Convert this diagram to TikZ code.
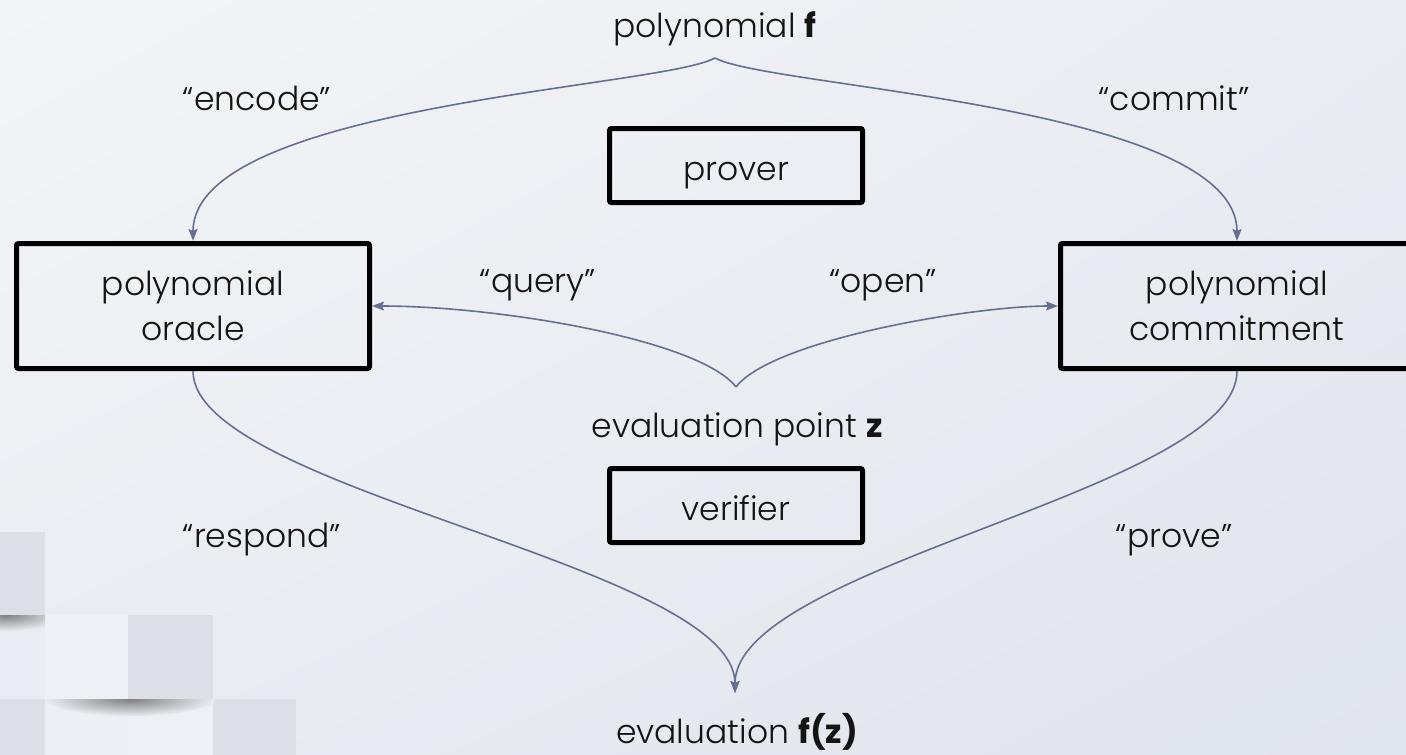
\documentclass[tikz,border=0pt]{standalone}
\usepackage{fontspec}
\setmainfont{Poppins}[UprightFont=* Light, BoldFont=* Bold]
\usetikzlibrary{arrows.meta,shadings}

\definecolor{bgA}{HTML}{F4F5F8}
\definecolor{bgB}{HTML}{E9ECF1}
\definecolor{bgC}{HTML}{E1E5EC}
\definecolor{linkc}{HTML}{66708E}
\definecolor{tileD}{HTML}{DCDFE6}
\definecolor{tileL}{HTML}{EEF0F5}
\definecolor{tileM}{HTML}{E9ECF2}

\tikzset{
  txt/.style={font=\fontsize{33}{45}\selectfont, text=black!92},
  lbl/.style={txt, inner sep=0pt, anchor=base},
  box/.style={txt, draw=black, line width=5pt, rounded corners=2pt,
    align=center, inner sep=0pt},
  onebox/.style={box, minimum width=253pt, minimum height=74pt,
    text height=29pt, text depth=0pt},
  twobox/.style={box, minimum width=353pt, minimum height=125pt},
  link/.style={draw=linkc, line width=1.6pt,
    -{Stealth[length=12pt, width=9pt, inset=2pt]}},
  tileshadow/.style={inner color=black!50, outer color=tileM},
}

\begin{document}
\begin{tikzpicture}[x=1pt, y=-1pt]
  % page and soft background
  \useasboundingbox (0,0) rectangle (1406,755);
  \shade[upper left=bgA, upper right=bgB, lower left=bgB, lower right=bgC]
    (0,0) rectangle (1406,755);

  % tiled decoration, lower left corner
  \fill[tileD] (0,532) rectangle (45,615);
  \fill[tileM] (0,615) rectangle (45,699);
  \fill[tileL] (45,615) rectangle (128,699);
  \fill[tileD] (128,615) rectangle (213,699);
  \fill[tileD] (0,699) rectangle (45,755);
  \fill[tileL!80!tileM] (45,699) rectangle (128,755);
  \fill[tileL] (128,699) rectangle (213,755);
  \fill[tileD] (213,699) rectangle (296,755);
  \begin{scope}
    \clip (0,615) rectangle (45,645);
    \shade[tileshadow] (5,615) ellipse [x radius=60pt, y radius=16pt];
  \end{scope}
  \begin{scope}
    \clip (40,699) rectangle (220,730);
    \shade[tileshadow] (130,699) ellipse [x radius=85pt, y radius=17pt];
  \end{scope}

  % text labels
  \node[lbl] (poly) at (715,37) {polynomial \textbf{f}};
  \node[lbl] (encode) at (257,110) {“encode”};
  \node[lbl] (commitlbl) at (1174,110) {“commit”};
  \node[lbl] (query) at (538,292) {“query”};
  \node[lbl] (open) at (883,292) {“open”};
  \node[lbl] (point) at (737,437) {evaluation point \textbf{z}};
  \node[lbl] (respond) at (262,547) {“respond”};
  \node[lbl] (prove) at (1174,547) {“prove”};
  \node[lbl] (eval) at (737,743) {evaluation \textbf{f(z)}};

  % boxes
  \node[onebox] (prover) at (736,165.5) {prover};
  \node[onebox] (verifier) at (736,505.5) {verifier};
  \node[twobox] (oracle) at (193,306) {polynomial\\oracle};
  \node[twobox] (commit) at (1237,306) {polynomial\\commitment};

  % branching points of the connectors
  \coordinate (topcusp) at (715,58);
  \coordinate (midcusp) at (736,387);
  \coordinate (ftip) at (735,693);

  % connectors
  \draw[link] (topcusp) .. controls (660,88) and (193,105) .. (oracle.north);
  \draw[link] (topcusp) .. controls (770,88) and (1237,105) .. (commit.north);
  \draw[link] (midcusp) .. controls (700,340) and (500,306) .. (oracle.east);
  \draw[link] (midcusp) .. controls (772,340) and (972,306) .. (commit.west);
  \draw[link] (oracle.south) .. controls (193,490) and (735,565) .. (ftip);
  \draw[link] (commit.south) .. controls (1237,490) and (735,565) .. (ftip);
\end{tikzpicture}
\end{document}
